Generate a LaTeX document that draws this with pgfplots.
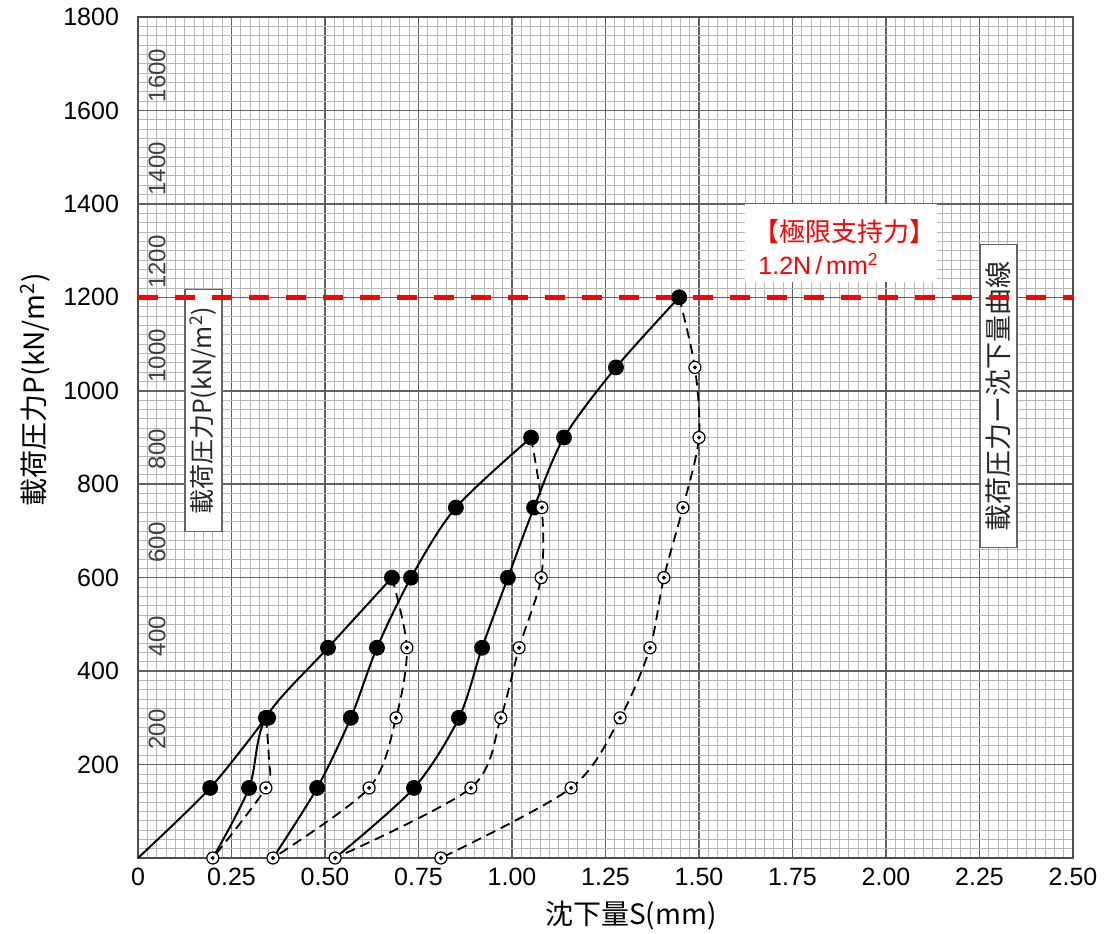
\documentclass[border=0pt]{standalone}
\usepackage{fontspec}
\setmainfont{Liberation Sans}
\newfontfamily\jp{Noto Sans CJK JP}
\usepackage{pgfplots}
\pgfplotsset{compat=1.18}
\tikzset{paperlbl/.style={rotate=90, text=black!75, font=\fontsize{12}{14}\selectfont, inner sep=0}}

\begin{document}
\begin{tikzpicture}
\begin{axis}[
  scale only axis, width=467.5pt, height=420.5pt,
  xmin=0, xmax=2.5, ymin=0, ymax=1800,
  xtick={0,0.25,0.5,0.75,1,1.25,1.5,1.75,2,2.25,2.5},
  xticklabels={0,0.25,0.50,0.75,1.00,1.25,1.50,1.75,2.00,2.25,2.50},
  ytick={200,400,600,800,1000,1200,1400,1600,1800},
  yticklabels={200,400,600,800,1000,1200,1400,1600,1800},
  minor xtick={0,0.025,...,2.5},
  minor ytick={0,20,...,1800},
  grid=both,
  major grid style={draw=black!62, line width=0.8pt},
  minor grid style={draw=black!28, line width=0.4pt},
  major tick length=0pt, minor tick length=0pt,
  axis line style={draw=black!70, line width=1pt},
  tick label style={font=\fontsize{12.5}{14}\selectfont},
  yticklabel style={xshift=-6pt},
  xticklabel style={yshift=-1.5pt},
  xlabel={\jp 沈下量S(mm)},
  ylabel={\jp 載荷圧力P(kN/m\textsuperscript{2})},
  label style={font=\fontsize{14}{16}\selectfont},
  xlabel style={at={(axis description cs:0.428,-0.068)}, anchor=west},
  ylabel style={at={(axis description cs:-0.11,0.41)}, anchor=west},
]
\coordinate (SW) at (rel axis cs:0,0);
\coordinate (NE) at (rel axis cs:1,1);

% graph-paper printed labels
\node[paperlbl] at (axis cs:0.051,275) {200};
\node[paperlbl] at (axis cs:0.051,475) {400};
\node[paperlbl] at (axis cs:0.051,675) {600};
\node[paperlbl] at (axis cs:0.051,875) {800};
\node[paperlbl] at (axis cs:0.051,1075) {1000};
\node[paperlbl] at (axis cs:0.051,1275) {1200};
\node[paperlbl] at (axis cs:0.051,1475) {1400};
\node[paperlbl] at (axis cs:0.051,1675) {1600};

% boxed labels
\node[rotate=90, draw=black!60, fill=white, line width=0.6pt, minimum width=121pt, minimum height=18.5pt, inner sep=1pt, font=\jp\fontsize{12.5}{13}\selectfont, text=black!85] at (axis cs:0.175,957) {載荷圧力P(kN/m\textsuperscript{2})};
\node[rotate=90, draw=black!60, fill=white, line width=0.6pt, minimum width=151.5pt, minimum height=18.5pt, inner sep=1pt, font=\jp\fontsize{13.5}{14}\selectfont, text=black!85] at (axis cs:2.301,988) {載荷圧力ー沈下量曲線};

% loading curves
\addplot[black, line width=1pt, smooth, tension=0.5] coordinates {(0,0) (0.193,150) (0.342,300)};
\addplot[black, line width=1pt, smooth, tension=0.5] coordinates {(0.2,0) (0.297,150) (0.342,300) (0.508,450) (0.679,600)};
\addplot[black, line width=1pt, smooth, tension=0.5] coordinates {(0.361,0) (0.479,150) (0.569,300) (0.639,450) (0.730,600) (0.850,750) (1.051,900)};
\addplot[black, line width=1pt, smooth, tension=0.5] coordinates {(0.527,0) (0.738,150) (0.858,300) (0.920,450) (0.989,600) (1.059,750) (1.139,900) (1.278,1050) (1.447,1200)};

% unloading curves
\addplot[black, line width=0.9pt, dash pattern=on 5pt off 3pt, smooth, tension=0.5] coordinates {(0.342,300) (0.350,210) (0.342,150) (0.2,0)};
\addplot[black, line width=0.9pt, dash pattern=on 5pt off 3pt, smooth, tension=0.5] coordinates {(0.679,600) (0.719,450) (0.690,300) (0.618,150) (0.361,0)};
\addplot[black, line width=0.9pt, dash pattern=on 5pt off 3pt, smooth, tension=0.5] coordinates {(1.051,900) (1.080,750) (1.078,600) (1.019,450) (0.970,300) (0.890,150) (0.527,0)};
\addplot[black, line width=0.9pt, dash pattern=on 5pt off 3pt, smooth, tension=0.5] coordinates {(1.447,1200) (1.489,1050) (1.500,900) (1.457,750) (1.406,600) (1.369,450) (1.289,300) (1.158,150) (0.810,0)};

% filled markers
\addplot[only marks, mark=*, mark size=3.75pt, mark options={fill=black, draw=black}] coordinates {
(0.193,150) (0.342,300) (0.297,150) (0.348,300) (0.508,450) (0.679,600)
(0.479,150) (0.569,300) (0.639,450) (0.730,600) (0.850,750) (1.051,900)
(0.738,150) (0.858,300) (0.920,450) (0.989,600) (1.059,750) (1.139,900) (1.278,1050) (1.447,1200)};

% open markers
\addplot[only marks, mark=*, mark size=3pt, mark options={fill=white, draw=black, line width=0.6pt}] coordinates {
(0.342,150) (0.2,0) (0.719,450) (0.690,300) (0.618,150) (0.361,0)
(1.080,750) (1.078,600) (1.019,450) (0.970,300) (0.890,150) (0.527,0)
(1.489,1050) (1.500,900) (1.457,750) (1.406,600) (1.369,450) (1.289,300) (1.158,150) (0.810,0)};
\addplot[only marks, mark=*, mark size=0.8pt, mark options={fill=black, draw=black}] coordinates {
(0.342,150) (0.2,0) (0.719,450) (0.690,300) (0.618,150) (0.361,0)
(1.080,750) (1.078,600) (1.019,450) (0.970,300) (0.890,150) (0.527,0)
(1.489,1050) (1.500,900) (1.457,750) (1.406,600) (1.369,450) (1.289,300) (1.158,150) (0.810,0)};

% ultimate bearing capacity line
\addplot[red, line width=2.5pt, dash pattern=on 10pt off 8.5pt] coordinates {(0,1200) (2.5,1200)};

% annotation
\node[fill=white, anchor=north west, inner sep=0, minimum width=96pt, minimum height=39pt] at (axis cs:1.623,1400) {};
\node[anchor=west, inner sep=0, text=red, font=\jp\fontsize{13}{14}\selectfont] at (axis cs:1.645,1340) {【極限支持力】};
\node[anchor=west, inner sep=0, text=red, font=\fontsize{12.5}{14}\selectfont] at (axis cs:1.658,1271) {1.2N\hspace{2pt}/\hspace{2pt}mm\textsuperscript{2}};
\end{axis}
\pgfresetboundingbox
\path ([shift={(-69pt,-37.5pt)}]SW) rectangle ([shift={(21pt,8.5pt)}]NE);
\end{tikzpicture}
\end{document}
